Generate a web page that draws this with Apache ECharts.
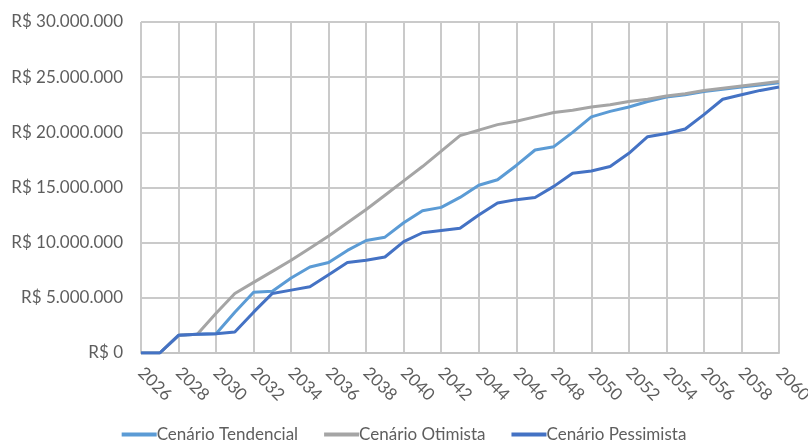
<!DOCTYPE html>
<html>
<head>
<meta charset="utf-8">
<script src="https://cdn.jsdelivr.net/npm/echarts@6/dist/echarts.min.js"></script>
<style>
  html, body { margin: 0; padding: 0; background: #fff; }
  #chart { width: 808px; height: 445px; }
</style>
</head>
<body>
<div id="chart"></div>
<script>
// Anos da projeção
const anos = ['2026','2027','2028','2029','2030','2031','2032','2033','2034','2035',
  '2036','2037','2038','2039','2040','2041','2042','2043','2044','2045',
  '2046','2047','2048','2049','2050','2051','2052','2053','2054','2055',
  '2056','2057','2058','2059','2060'];

// Valores acumulados por cenário, em milhões de reais
const tendencial = [0, 0, 1.6, 1.7, 1.75, 3.7, 5.5, 5.6, 6.8, 7.8,
  8.2, 9.3, 10.2, 10.5, 11.8, 12.9, 13.2, 14.1, 15.2, 15.7,
  17.0, 18.4, 18.7, 20.0, 21.4, 21.9, 22.3, 22.8, 23.2, 23.4,
  23.7, 23.9, 24.1, 24.3, 24.5];
const otimista = [0, 0, 1.6, 1.7, 3.6, 5.4, 6.4, 7.4, 8.4, 9.5,
  10.6, 11.8, 13.0, 14.3, 15.6, 16.9, 18.3, 19.7, 20.2, 20.7,
  21.0, 21.4, 21.8, 22.0, 22.3, 22.5, 22.8, 23.0, 23.3, 23.5,
  23.8, 24.0, 24.2, 24.4, 24.6];
const pessimista = [0, 0, 1.6, 1.7, 1.75, 1.9, 3.7, 5.4, 5.7, 6.0,
  7.1, 8.2, 8.4, 8.7, 10.1, 10.9, 11.1, 11.3, 12.5, 13.6,
  13.9, 14.1, 15.1, 16.3, 16.5, 16.9, 18.1, 19.6, 19.9, 20.3,
  21.6, 23.0, 23.4, 23.8, 24.1];

const nomes = ['Cenário Tendencial', 'Cenário Otimista', 'Cenário Pessimista'];
const cores = ['#5B9BD5', '#A5A5A5', '#4472C4'];

const emReais = arr => arr.map(v => Math.round(v * 1e6));

function formataReal(v) {
  return 'R$ ' + String(Math.round(v)).replace(/\B(?=(\d{3})+(?!\d))/g, '.');
}

const fonte = 'Lato, "Open Sans", sans-serif';
const corTexto = '#5E5E5E';
const chart = echarts.init(document.getElementById('chart'), null, { renderer: 'canvas' });

chart.setOption({
  animation: false,
  color: cores,
  grid: {
    left: 141, right: 29, top: 22, bottom: 92,
    containLabel: false,
    outerBoundsMode: 'none'
  },
  legend: {
    top: 426,
    left: 'center',
    padding: 0,
    icon: 'rect',
    itemWidth: 35,
    itemHeight: 4,
    itemGap: 26,
    textStyle: { color: corTexto, fontSize: 17, fontFamily: fonte, padding: [0, 0, 0, -5] },
    data: nomes
  },
  xAxis: {
    type: 'category',
    data: anos,
    boundaryGap: false,
    axisTick: { show: false },
    axisLine: { lineStyle: { color: '#C4C4C4', width: 2 } },
    axisLabel: {
      interval: 1,
      rotate: -45,
      margin: 17,
      color: corTexto,
      fontSize: 17,
      fontFamily: fonte
    },
    splitLine: { show: true, interval: 1, lineStyle: { color: '#CACACA', width: 2 } }
  },
  yAxis: {
    type: 'value',
    min: 0,
    max: 30000000,
    interval: 5000000,
    axisLine: { show: false },
    axisTick: { show: false },
    axisLabel: {
      margin: 18,
      color: corTexto,
      fontSize: 17,
      fontFamily: fonte,
      formatter: formataReal
    },
    splitLine: { lineStyle: { color: '#CACACA', width: 2 } }
  },
  series: [
    { name: nomes[0], data: emReais(tendencial) },
    { name: nomes[1], data: emReais(otimista) },
    { name: nomes[2], data: emReais(pessimista) }
  ].map(s => Object.assign({
    type: 'line',
    showSymbol: false,
    symbol: 'none',
    lineStyle: { width: 3 },
    z: 3
  }, s))
});
</script>
</body>
</html>
